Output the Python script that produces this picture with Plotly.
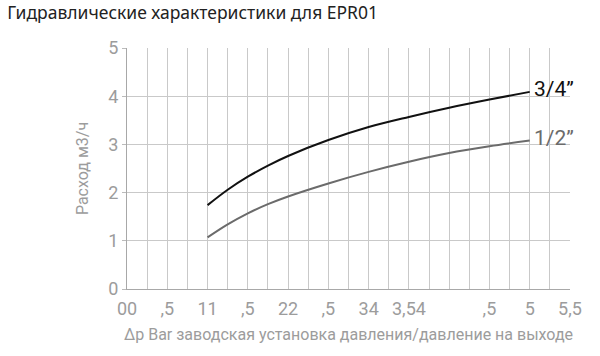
import plotly.graph_objects as go

title_text = "Гидравлические характеристики для EPR01"
x_title = "Δp Bar заводская установка давления/давление на выходе"
y_title = "Расход м3/ч"

pressure = [1.0, 1.25, 1.5, 1.75, 2.0, 2.5, 3.0, 3.5, 4.0, 4.5, 5.0]
flow_34 = [1.74, 2.06, 2.33, 2.56, 2.76, 3.09, 3.36, 3.57, 3.76, 3.93, 4.09]
flow_12 = [1.07, 1.34, 1.57, 1.76, 1.92, 2.19, 2.43, 2.64, 2.82, 2.96, 3.08]

x_tickvals = [0.25 * i for i in range(23)]
x_ticktext = ["00", "", ",5", "", "11", "", ",5", "", "22", "", ",5", "", "34", "",
              "3,54", "", "", "", ",5", "", "5", "", "5,5"]
y_tickvals = [0, 1, 2, 3, 4, 5]

series_names = ["3/4”", "1/2”"]
series_colors = ["#111111", "#6b6b6b"]

grid_col = "#c9c9c9"
tick_col = "#9c9c9c"

fig = go.Figure()
for name, ys, col in zip(series_names, [flow_34, flow_12], series_colors):
    fig.add_trace(go.Scatter(x=pressure, y=ys, mode="lines", line=dict(color=col, width=2, shape="spline"),
                             showlegend=False, hoverinfo="skip"))
    fig.add_annotation(x=pressure[-1], y=ys[-1], text=name, showarrow=False, xanchor="left",
                       yanchor="middle", xshift=2, yshift=3,
                       font=dict(family="Roboto", size=21, color=col))

fig.update_layout(
    width=600, height=356,
    margin=dict(l=127, r=30, t=48, b=67),
    paper_bgcolor="white", plot_bgcolor="white",
    title=dict(text=title_text, x=0.012, xanchor="left", y=0.965, yanchor="middle",
               font=dict(family="Noto Sans", size=17.5, color="#222222")),
    xaxis=dict(range=[0, 5.5], tickmode="array", tickvals=x_tickvals, ticktext=x_ticktext,
               showgrid=True, gridcolor=grid_col, gridwidth=1, zeroline=False,
               showline=True, linecolor="#a8a8a8", linewidth=1, ticks="outside", ticklen=3,
               tickcolor="rgba(0,0,0,0)",
               tickfont=dict(family="Roboto", size=18, color=tick_col),
               title=dict(text=x_title, standoff=11, font=dict(family="Roboto", size=16, color=tick_col))),
    yaxis=dict(range=[0, 5], tickmode="array", tickvals=y_tickvals,
               showgrid=True, gridcolor=grid_col, gridwidth=1, zeroline=False,
               showline=True, linecolor="#a8a8a8", linewidth=1, ticks="outside", ticklen=4,
               tickcolor="#bbbbbb",
               tickfont=dict(family="Roboto", size=18, color=tick_col),
               title=dict(text=y_title, standoff=15, font=dict(family="Roboto", size=16, color=tick_col))),
)

fig.write_html("out.html")
